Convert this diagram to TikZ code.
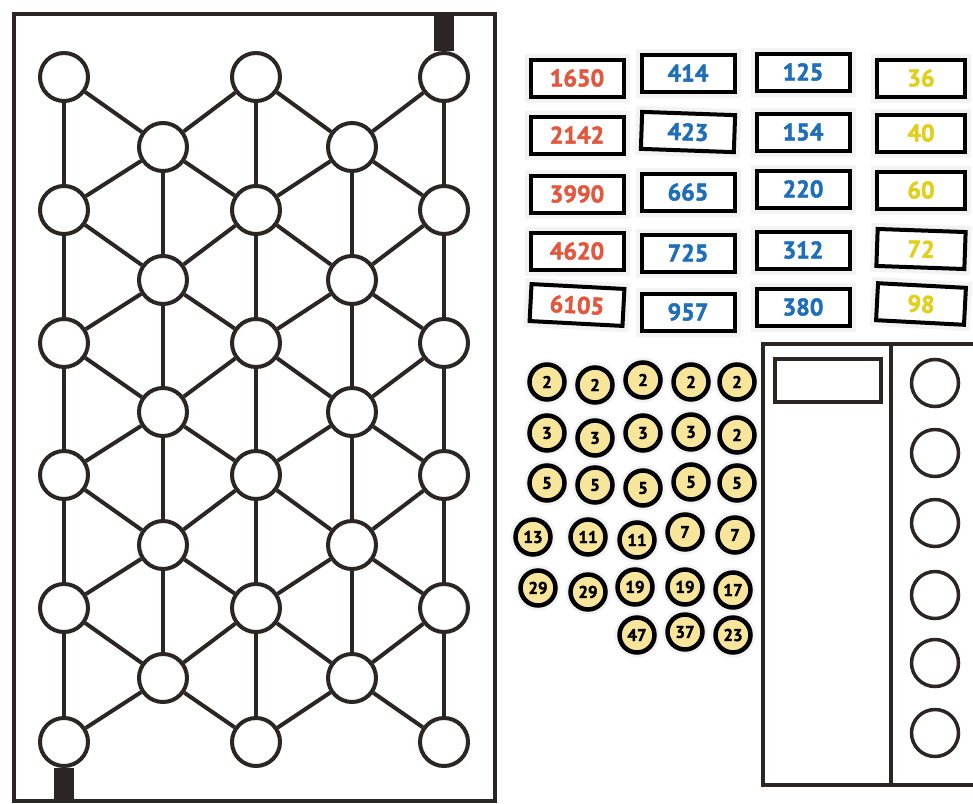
\documentclass[tikz,border=0pt]{standalone}
\usepackage{fontspec}
\usepackage{tikz}
\usetikzlibrary{positioning}
\newfontfamily\cifras{PT Sans}[BoldFeatures={FakeBold=2}]
\definecolor{tinta}{HTML}{2B2523}
\definecolor{rojo}{HTML}{E4573F}
\definecolor{azul}{HTML}{1F6FB8}
\definecolor{amarillo}{HTML}{E2CF1B}
\definecolor{crema}{HTML}{F7E59C}
\definecolor{plastico}{HTML}{F3F3F3}
\tikzset{
  marco/.style={draw=tinta,line width=4.5pt},
  hueco/.style={circle,draw=tinta,fill=white,line width=4pt,inner sep=0pt,minimum size=48pt},
  casilla/.style={circle,draw=tinta,fill=white,line width=3.5pt,inner sep=0pt,minimum size=47pt},
  arista/.style={draw=tinta,line width=4pt},
  pestana/.style={draw=tinta,line width=20pt},
  tarjeta/.style={rectangle,draw=black,fill=white,line width=4pt,minimum width=93pt,minimum height=37pt,inner sep=0pt,font=\cifras\bfseries\fontsize{24}{24}\selectfont,preaction={draw=plastico,line width=12pt}},
  ficha/.style={circle,draw=black,fill=crema,line width=4.5pt,minimum size=35pt,inner sep=0pt,font=\cifras\bfseries\fontsize{17}{17}\selectfont,preaction={draw=plastico,line width=10pt}},
}
\begin{document}
\begin{tikzpicture}[x=1pt,y=-1pt]
\useasboundingbox (0,0) rectangle (973,803);
\fill[white] (0,0) rectangle (973,803);
% tablero
\draw[marco] (14,14) rectangle (495,801);
\coordinate (topeE) at (446,14);
\coordinate (pieA) at (65,803);
\node[hueco] (a1) at (64,77) {};
\node[hueco] (a2) at (64,210) {};
\node[hueco] (a3) at (64,343) {};
\node[hueco] (a4) at (64,475) {};
\node[hueco] (a5) at (64,608) {};
\node[hueco] (a6) at (64,742) {};
\node[hueco] (b1) at (163,147) {};
\node[hueco] (b2) at (163,280) {};
\node[hueco] (b3) at (163,412) {};
\node[hueco] (b4) at (163,545) {};
\node[hueco] (b5) at (163,678) {};
\node[hueco] (c1) at (256,77) {};
\node[hueco] (c2) at (256,210) {};
\node[hueco] (c3) at (256,343) {};
\node[hueco] (c4) at (256,475) {};
\node[hueco] (c5) at (256,608) {};
\node[hueco] (c6) at (256,742) {};
\node[hueco] (d1) at (352,147) {};
\node[hueco] (d2) at (352,280) {};
\node[hueco] (d3) at (352,412) {};
\node[hueco] (d4) at (352,545) {};
\node[hueco] (d5) at (352,678) {};
\node[hueco] (e1) at (444,77) {};
\node[hueco] (e2) at (444,210) {};
\node[hueco] (e3) at (444,343) {};
\node[hueco] (e4) at (444,475) {};
\node[hueco] (e5) at (444,608) {};
\node[hueco] (e6) at (444,742) {};
\draw[arista] (a1) -- (a2) -- (a3) -- (a4) -- (a5) -- (a6);
\draw[arista] (c1) -- (c2) -- (c3) -- (c4) -- (c5) -- (c6);
\draw[arista] (e1) -- (e2) -- (e3) -- (e4) -- (e5) -- (e6);
\draw[arista] (b1) -- (b2) -- (b3) -- (b4) -- (b5);
\draw[arista] (d1) -- (d2) -- (d3) -- (d4) -- (d5);
\draw[arista] (a1) -- (b1) -- (c1) -- (d1) -- (e1);
\draw[arista] (a2) -- (b1) -- (c2) -- (d1) -- (e2);
\draw[arista] (a2) -- (b2) -- (c2) -- (d2) -- (e2);
\draw[arista] (a3) -- (b2) -- (c3) -- (d2) -- (e3);
\draw[arista] (a3) -- (b3) -- (c3) -- (d3) -- (e3);
\draw[arista] (a4) -- (b3) -- (c4) -- (d3) -- (e4);
\draw[arista] (a4) -- (b4) -- (c4) -- (d4) -- (e4);
\draw[arista] (a5) -- (b4) -- (c5) -- (d4) -- (e5);
\draw[arista] (a5) -- (b5) -- (c5) -- (d5) -- (e5);
\draw[arista] (a6) -- (b5) -- (c6) -- (d5) -- (e6);
\draw[pestana] (e1.north) -- (e1.north |- topeE);
\draw[pestana] (a6.south) -- (a6.south |- pieA);
% tarjetas
\node[tarjeta,text=rojo] (n1650) at (577,78) {1650};
\node[tarjeta,text=rojo] (n2142) at (577,135) {2142};
\node[tarjeta,text=rojo] (n3990) at (577,194) {3990};
\node[tarjeta,text=rojo] (n4620) at (577,251) {4620};
\node[tarjeta,text=rojo,rotate=-3] (n6105) at (577,305) {6105};
\node[tarjeta,text=azul] (n414) at (688,73) {414};
\node[tarjeta,text=azul,rotate=-2] (n423) at (688,132) {423};
\node[tarjeta,text=azul] (n665) at (688,192) {665};
\node[tarjeta,text=azul] (n725) at (688,253) {725};
\node[tarjeta,text=azul] (n957) at (688,312) {957};
\node[tarjeta,text=azul] (n125) at (803,72) {125};
\node[tarjeta,text=azul] (n154) at (803,132) {154};
\node[tarjeta,text=azul] (n220) at (803,189) {220};
\node[tarjeta,text=azul] (n312) at (803,250) {312};
\node[tarjeta,text=azul] (n380) at (803,307) {380};
\node[tarjeta,text=amarillo,minimum width=88pt] (n36) at (921,78) {36};
\node[tarjeta,text=amarillo,minimum width=88pt] (n40) at (921,133) {40};
\node[tarjeta,text=amarillo,minimum width=88pt] (n60) at (921,190) {60};
\node[tarjeta,text=amarillo,minimum width=88pt,rotate=-2] (n72) at (921,249) {72};
\node[tarjeta,text=amarillo,minimum width=88pt,rotate=-3] (n98) at (921,304) {98};
% fichas
\node[ficha] (f1) at (547,382) {2};
\node[ficha] (f2) at (595,385) {2};
\node[ficha] (f3) at (643,380) {2};
\node[ficha] (f4) at (691,382) {2};
\node[ficha] (f5) at (737,382) {2};
\node[ficha] (f6) at (547,433) {3};
\node[ficha] (f7) at (595,438) {3};
\node[ficha] (f8) at (643,433) {3};
\node[ficha] (f9) at (691,432) {3};
\node[ficha] (f10) at (737,435) {2};
\node[ficha] (f11) at (547,483) {5};
\node[ficha] (f12) at (595,485) {5};
\node[ficha] (f13) at (643,488) {5};
\node[ficha] (f14) at (691,482) {5};
\node[ficha] (f15) at (737,483) {5};
\node[ficha] (f16) at (533,537) {13};
\node[ficha] (f17) at (588,537) {11};
\node[ficha] (f18) at (637,540) {11};
\node[ficha] (f19) at (685,532) {7};
\node[ficha] (f20) at (735,535) {7};
\node[ficha] (f21) at (538,588) {29};
\node[ficha] (f22) at (588,592) {29};
\node[ficha] (f23) at (635,587) {19};
\node[ficha] (f24) at (685,587) {19};
\node[ficha] (f25) at (733,590) {17};
\node[ficha] (f26) at (637,635) {47};
\node[ficha] (f27) at (685,632) {37};
\node[ficha] (f28) at (733,635) {23};
% panel de respuesta
\draw[marco] (973,344) -- (763,344) -- (763,785) -- (973,785);
\draw[marco] (891,344) -- (891,785);
\node[draw=tinta,line width=4pt,minimum width=106pt,minimum height=43pt,inner sep=0pt] (resultado) at (828,380) {};
\node[casilla] (r1) at (935,383) {};
\node[casilla] (r2) at (935,453) {};
\node[casilla] (r3) at (935,523) {};
\node[casilla] (r4) at (935,595) {};
\node[casilla] (r5) at (935,663) {};
\node[casilla] (r6) at (935,733) {};
\end{tikzpicture}
\end{document}
